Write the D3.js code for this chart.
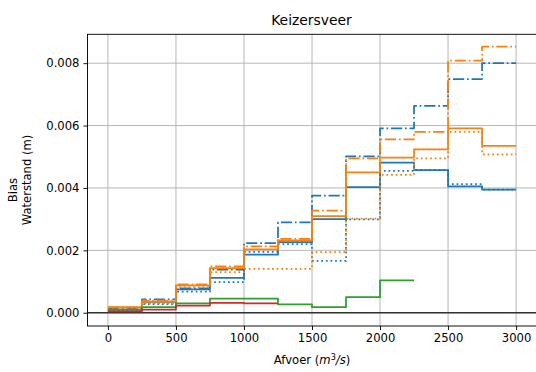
<!DOCTYPE html>
<html><head><meta charset="utf-8">
<script src="https://cdn.jsdelivr.net/npm/d3@7"></script>
<style>
body{margin:0;background:#fff;}
svg{display:block;font-family:"DejaVu Sans",sans-serif;}
</style></head>
<body><svg id="c" width="536" height="372"></svg>
<script>
const binEdges = [0,250,500,750,1000,1250,1500,1750,2000,2250,2500,2750,3000];
const xTicks = [0,500,1000,1500,2000,2500,3000];
const yTicks = [0,0.002,0.004,0.006,0.008];
const yTickLabels = ["0.000","0.002","0.004","0.006","0.008"];

const blueSolid   = [0.00010,0.00035,0.00075,0.00112,0.00186,0.00226,0.00300,0.00403,0.00481,0.00457,0.00405,0.00395];
const blueDotted  = [0.00008,0.00028,0.00068,0.00098,0.00195,0.00220,0.00166,0.00299,0.00455,0.00458,0.00412,0.00395];
const blueDashdot = [0.00012,0.00043,0.00078,0.00138,0.00223,0.00290,0.00375,0.00501,0.00591,0.00663,0.00749,0.00800];
const orangeSolid   = [0.00018,0.00036,0.00088,0.00143,0.00203,0.00232,0.00310,0.00450,0.00497,0.00524,0.00591,0.00535];
const orangeDotted  = [0.00014,0.00030,0.00082,0.00130,0.00141,0.00141,0.00194,0.00302,0.00442,0.00495,0.00580,0.00508];
const orangeDashdot = [0.00017,0.00039,0.00091,0.00149,0.00213,0.00237,0.00327,0.00495,0.00556,0.00580,0.00808,0.00853];
const greenSolid = [0.00010,0.00018,0.00030,0.00045,0.00045,0.00027,0.00018,0.00050,0.00104];
const redSolid   = [0.00004,0.00010,0.00023,0.00032,0.00030];

const seriesList = [
  {values: blueSolid, color:"#1f77b4", dash:null},
  {values: blueDotted, color:"#1f77b4", dash:"1.75,2.88"},
  {values: blueDashdot, color:"#1f77b4", dash:"11.2,2.8,1.75,2.8"},
  {values: orangeSolid, color:"#ff7f0e", dash:null},
  {values: orangeDotted, color:"#ff7f0e", dash:"1.75,2.88"},
  {values: orangeDashdot, color:"#ff7f0e", dash:"11.2,2.8,1.75,2.8"},
  {values: greenSolid, color:"#2ca02c", dash:null},
  {values: redSolid, color:"#d62728", dash:null}
];

const svg = d3.select("#c");
const L = 87.5, R = 536.5, T = 34.3, B = 326;
const x = d3.scaleLinear().domain([-150,3150]).range([L,R]);
const y = d3.scaleLinear().domain([-0.000425,0.008925]).range([B,T]);

// grid
const g = svg.append("g");
g.selectAll(".gx").data(xTicks).enter().append("line")
  .attr("x1",d=>x(d)).attr("x2",d=>x(d)).attr("y1",T).attr("y2",B)
  .attr("stroke","#b0b0b0").attr("stroke-width",0.93);
g.selectAll(".gy").data(yTicks).enter().append("line")
  .attr("x1",L).attr("x2",R).attr("y1",d=>y(d)).attr("y2",d=>y(d))
  .attr("stroke","#b0b0b0").attr("stroke-width",0.93);

// zero line
svg.append("line").attr("x1",L).attr("x2",R).attr("y1",y(0)).attr("y2",y(0))
  .attr("stroke","#333").attr("stroke-width",1.4);

// series
const line = d3.line().x(d=>x(d[0])).y(d=>y(d[1])).curve(d3.curveStepAfter);
seriesList.forEach(s=>{
  const pts = s.values.map((v,i)=>[binEdges[i],v]);
  pts.push([binEdges[s.values.length], s.values[s.values.length-1]]);
  const p = svg.append("path").datum(pts).attr("d",line)
    .attr("fill","none").attr("stroke",s.color).attr("stroke-width",1.75)
    .attr("stroke-linejoin","round");
  if (s.dash) p.attr("stroke-dasharray",s.dash).attr("stroke-linecap","butt");
});

// frame
svg.append("rect").attr("x",L).attr("y",T).attr("width",R-L).attr("height",B-T)
  .attr("fill","none").attr("stroke","#000").attr("stroke-width",0.93);

// axes
const xAxis = d3.axisBottom(x).tickValues(xTicks).tickSize(4).tickPadding(4).tickFormat(d3.format("d"));
const ax = svg.append("g").attr("transform",`translate(0,${B})`).call(xAxis);
const yAxis = d3.axisLeft(y).tickValues(yTicks).tickSize(4).tickPadding(4).tickFormat((d,i)=>yTickLabels[i]);
const ay = svg.append("g").attr("transform",`translate(${L},0)`).call(yAxis);
[ax,ay].forEach(a=>{
  a.select(".domain").remove();
  a.selectAll(".tick line").attr("stroke","#000").attr("stroke-width",0.93);
  a.selectAll(".tick text").attr("fill","#000").style("font-size","11.6px").style("font-family","DejaVu Sans");
});

// title
svg.append("text").attr("x",311.5).attr("y",25).attr("text-anchor","middle")
  .style("font-size","13.9px").attr("fill","#000").text("Keizersveer");

// x label
const xl = svg.append("text").attr("x",312).attr("y",364).attr("text-anchor","middle")
  .style("font-size","11.6px").attr("fill","#000");
xl.append("tspan").text("Afvoer (");
xl.append("tspan").style("font-style","italic").text("m");
xl.append("tspan").attr("dy",-4).style("font-size","8.2px").text("3");
xl.append("tspan").attr("dy",4).style("font-style","italic").text("/s");
xl.append("tspan").text(")");

// y label
const yl = svg.append("text").attr("transform","translate(0,180) rotate(-90)")
  .attr("text-anchor","middle").style("font-size","11.6px").attr("fill","#000");
yl.append("tspan").attr("x",-10).attr("y",17).text("Bias");
yl.append("tspan").attr("x",0).attr("y",31).text("Waterstand (m)");
</script></body></html>
